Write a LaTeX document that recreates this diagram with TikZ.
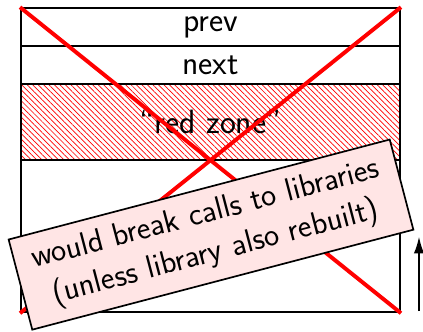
\documentclass[tikz,border=0pt]{standalone}
\usepackage{fontspec}
\usepackage{tikz}
\usetikzlibrary{patterns.meta,arrows.meta}

\begin{document}
\begin{tikzpicture}

		% Define styles
		\tikzstyle{slot} = [
		rectangle, minimum width=9.475cm, minimum height=0.95cm,
		text centered, draw=black, line width=1.4pt, fill=white,
		font=\sffamily\fontsize{24}{28}\selectfont, inner sep=0pt]
		\tikzstyle{redzone} = [
		slot, minimum height=1.9cm, fill=none,
		pattern={Lines[angle=-45, distance=2.75pt, line width=0.5pt]},
		pattern color=red]
		\tikzstyle{cross} = [red, line width=2.8pt]
		\tikzstyle{note} = [
		rectangle, minimum width=9.85cm, minimum height=2.33cm,
		draw=black, line width=1.2pt, fill=red!10, align=center,
		font=\sffamily\fontsize{23}{28}\selectfont, rotate=14.7]
		\tikzstyle{arrow} = [line width=1.4pt, -{Latex[length=4.2mm,width=2.6mm]}]

		\useasboundingbox (0,0) rectangle (10.575,8.275);

		% Nodes
		\node (prev) [slot] at (5.2625,7.595) {prev};
		\node (next) [slot] at (5.2625,6.645) {next};
		\node (zone) [redzone] at (5.2625,5.22) {“red zone”};
		\node (body) [slot, minimum height=3.8cm] at (5.2625,2.37) {};

		% Cross
		\draw [cross] (prev.north west) -- (body.south east);
		\draw [cross] (prev.north east) -- (body.south west);

		\node (warn) [note] at (5.275,2.41) {
			would break calls to libraries \\
			(unless library also rebuilt)
		};

		% Growth
		\coordinate (low) at (10.475,0.5);
		\coordinate (high) at (10.475,2.36);
		\draw [arrow] (low) -- (high);
	\end{tikzpicture}
\end{document}
